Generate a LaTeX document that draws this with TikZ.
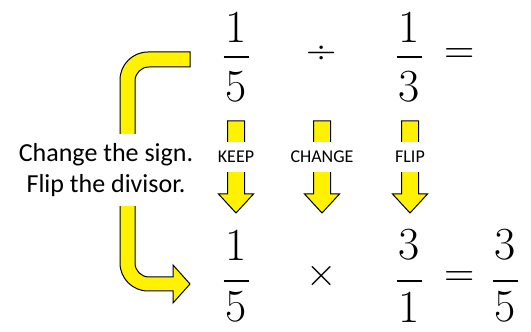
\documentclass[tikz,border=0pt]{standalone}
\usepackage{fontspec}
\newfontfamily\labelfont{Carlito}
\usetikzlibrary{positioning}

\begin{document}
\begin{tikzpicture}[
    x=1pt, y=1pt,
    digit/.style={inner sep=0pt, font=\fontsize{46}{50}\selectfont},
    oper/.style={inner sep=0pt, anchor=base, font=\fontsize{42}{46}\selectfont},
    fracbar/.style={line width=2.8pt},
    blockarrow/.style={draw=black, line width=1pt, fill=yellow, line join=miter},
    tag/.style={fill=white, inner sep=1pt, minimum height=30pt,
        font=\labelfont\fontsize{18}{20}\selectfont},
    note/.style={fill=white, inner sep=2pt, minimum height=72pt, align=center,
        font=\labelfont\fontsize{26}{31}\selectfont}
]
\useasboundingbox (0,0) rectangle (531,332);

% --- Block arrows ---
\draw[blockarrow] (190,280) -- (148,280) arc[start angle=90, end angle=180, radius=28pt]
    -- (120,69) arc[start angle=180, end angle=270, radius=28pt]
    -- (173,41) -- (173,29) -- (190,48) -- (173,67) -- (173,55)
    -- (149,55) arc[start angle=270, end angle=180, radius=14pt]
    -- (135,251) arc[start angle=180, end angle=90, radius=14pt]
    -- (190,265) -- cycle;
\foreach \c in {236,322,410}
    \draw[blockarrow] (\c-8.5,211) -- (\c+8.5,211) -- (\c+8.5,138) -- (\c+17.5,138)
        -- (\c,119) -- (\c-17.5,138) -- (\c-8.5,138) -- cycle;

% --- Top row: 1/5 : 1/3 = ---
\node[digit] (topnumA) at (236,305) {1};
\node[digit] (topdenA) at (236,245) {5};
\draw[fracbar] (223.5,275) -- (248.5,275);
\node[oper] (divide) at (322,268.5) {÷};
\node[digit] (topnumB) at (409,305) {1};
\node[digit] (topdenB) at (409,245) {3};
\draw[fracbar] (396.5,275) -- (421.5,275);
\node[oper] (topeq) at (460,268.5) {=};

% --- Bottom row: 1/5 x 3/1 = 3/5 ---
\node[digit] (botnumA) at (236,87) {1};
\node[digit] (botdenA) at (236,25) {5};
\draw[fracbar] (223.5,51) -- (248.5,51);
\node[oper] (times) at (322,45.5) {×};
\node[digit] (botnumB) at (409,87) {3};
\node[digit] (botdenB) at (409,25) {1};
\draw[fracbar] (396.5,51) -- (421.5,51);
\node[oper] (boteq) at (460,45.5) {=};
\node[digit] (resnum) at (505.5,87) {3};
\node[digit] (resden) at (505.5,25) {5};
\draw[fracbar] (493,51) -- (518,51);

% --- Labels over the arrows ---
\node[tag] (keep) at (236,175) {KEEP};
\node[tag] (change) at (322,175) {CHANGE};
\node[tag] (flip) at (410,175) {FLIP};
\node[note] (rule) at (106,161.5) {Change the sign.\\Flip the divisor.};

\end{tikzpicture}
\end{document}
